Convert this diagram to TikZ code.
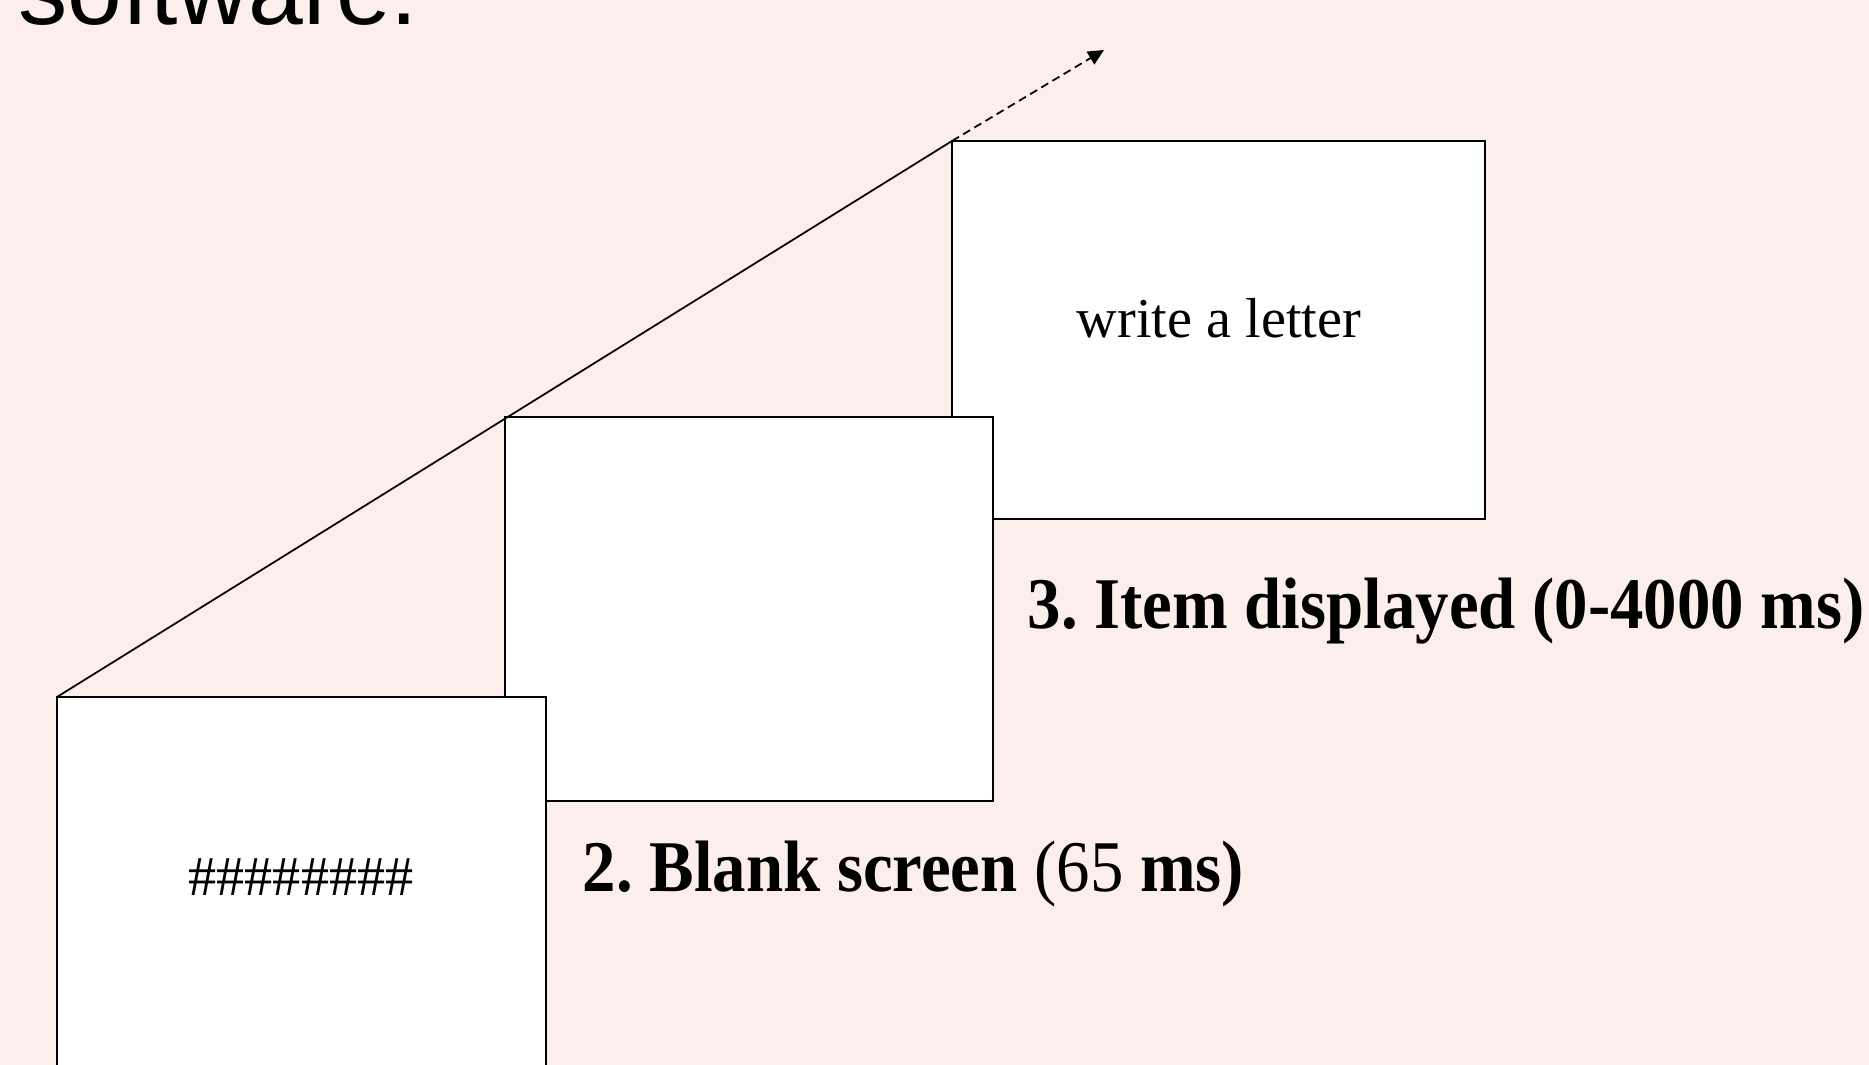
\documentclass[tikz,border=0pt]{standalone}
\usepackage{fontspec}
\setmainfont{Liberation Serif}
\newfontfamily\headfont{Liberation Sans}
\usetikzlibrary{arrows.meta}
\definecolor{slidebg}{RGB}{253,238,238}
\frenchspacing
\tikzset{
  screen/.style={draw, fill=white, line width=0.5pt, inner sep=0pt, outer sep=0pt, anchor=north west},
  steplabel/.style={anchor=base west, inner sep=0pt, font=\fontsize{19}{23}\selectfont\bfseries},
  stimulus/.style={anchor=base, inner sep=0pt, font=\fontsize{16}{19}\selectfont},
  flow/.style={line width=0.5pt, dash pattern=on 2.3pt off 1.4pt, -{Triangle[length=4.5pt,width=4.2pt]}}
}

\begin{document}
\begin{tikzpicture}[x=0.01cm, y=-0.01cm]

  \useasboundingbox (0,0) rectangle (1869,1065);
  \fill[slidebg] (0,0) rectangle (1869,1065);
  \clip (0,0) rectangle (1869,1065);

  \node[anchor=base west, inner sep=0pt, font=\headfont\fontsize{28}{34}\selectfont] (title) at (18,25) {software.};

  % screens, back to front
  \begin{scope}[every node/.style={screen}]
    \node[minimum width=5.33cm, minimum height=3.78cm] (item)  at (952,141) {};
    \node[minimum width=4.88cm, minimum height=3.84cm] (blank) at (505,417) {};
    \node[minimum width=4.89cm, minimum height=3.84cm] (mask)  at (57,697)  {};
  \end{scope}

  \node[stimulus] (word)   at (1219,338) {write a letter};
  \node[stimulus] (hashes) at (301,896)  {\#\#\#\#\#\#\#\#};

  \node[steplabel] (blanklabel) at (582,892)  {\scalebox{1}[1.09]{2. Blank screen \textnormal{(65} ms)}};
  \node[steplabel] (itemlabel)  at (1027,629) {\scalebox{1}[1.09]{3. Item displayed (0-4000 ms)}};

  \coordinate (next) at (1104,50);

  \draw[line width=0.5pt] (mask.north west) -- (item.north west);
  \draw[flow] (item.north west) -- (next);

\end{tikzpicture}
\end{document}
